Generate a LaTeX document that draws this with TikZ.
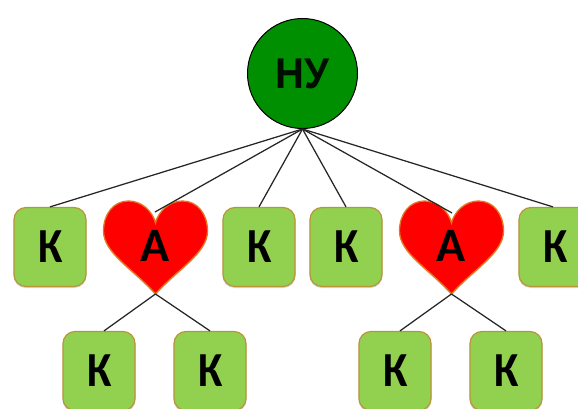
\documentclass[tikz,border=0pt]{standalone}
\usepackage{fontspec}
\usepackage{graphicx}
\setmainfont{Carlito}
\newfontfamily\rootfont{Liberation Sans}
\definecolor{leaf}{HTML}{92D050}
\definecolor{leafedge}{HTML}{B9953A}
\definecolor{heartedge}{HTML}{E8751E}
\definecolor{rootgreen}{HTML}{008F00}
\newcommand{\kaletter}{\raisebox{-1.5pt}{\hspace{2pt}\scalebox{.9}[1.02]{К}}}
\tikzset{
  x=1pt,y=-1pt,
  leafbox/.style={draw=leafedge,line width=1.2pt,fill=leaf,rounded corners=12pt,minimum width=72pt,minimum height=79pt,inner sep=0pt,font=\fontsize{48}{48}\selectfont\bfseries,text=black},
  shadowbox/.style={fill=black,opacity=.16,rounded corners=12pt,minimum width=73pt,minimum height=79pt,draw=none},
  rootnode/.style={circle,draw=black,line width=1pt,fill=rootgreen,minimum size=110pt,inner sep=0pt,font=\rootfont\fontsize{43}{43}\selectfont\bfseries,text=black!90!rootgreen},
  heartlabel/.style={inner sep=0pt,font=\fontsize{48}{48}\selectfont\bfseries,text=black},
  link/.style={draw=black!85,line width=1.25pt},
  heartshape/.style={fill=red,draw=heartedge,line width=1.3pt},
  heartshadow/.style={fill=black,opacity=.16,draw=none}
}
\newcommand{\heartpath}{
  (0,22)
  .. controls (-3,10) and (-14,0) .. (-27,0)
  .. controls (-42,0) and (-52,13) .. (-52,30)
  .. controls (-52,52) and (-22,68) .. (0,93)
  .. controls (22,68) and (52,52) .. (52,30)
  .. controls (52,13) and (42,0) .. (27,0)
  .. controls (14,0) and (3,10) .. (0,22) -- cycle
}
\begin{document}
\begin{tikzpicture}
\useasboundingbox (0,0) rectangle (578,409);
\clip (0,0) rectangle (578,409);
\fill[white] (0,0) rectangle (578,409);
% anchors of the hearts
\coordinate (h1in) at (155,212);
\coordinate (h2in) at (452,213);
\coordinate (h1tip) at (155.5,294);
\coordinate (h2tip) at (451.5,294);
% shadows
\foreach \p in {50,259,346,555} \node[shadowbox] at (\p,248.5) {};
\foreach \p in {99,210,395,506} \node[shadowbox] at (\p,372.5) {};
\fill[heartshadow,shift={(155.5,202.5)}] \heartpath;
\fill[heartshadow,shift={(451.5,202.5)}] \heartpath;
% nodes
\node[rootnode] (root) at (302.5,73.5) {\scalebox{.93}[1]{НУ}};
\node[leafbox] (k1) at (50,247) {\kaletter};
\node[leafbox] (k2) at (259,247) {\kaletter};
\node[leafbox] (k3) at (346,247) {\kaletter};
\node[leafbox] (k4) at (555,247) {\kaletter};
\node[leafbox] (k5) at (99,371) {\kaletter};
\node[leafbox] (k6) at (210,371) {\kaletter};
\node[leafbox] (k7) at (395,371) {\kaletter};
\node[leafbox] (k8) at (506,371) {\kaletter};
\path[heartshape,shift={(155.5,201)}] \heartpath;
\path[heartshape,shift={(451.5,201)}] \heartpath;
\node[heartlabel] (a1) at (155.5,246) {А};
\node[heartlabel] (a2) at (451.5,246) {А};
% connectors
\draw[link] (root.south) -- (k1.north);
\draw[link] (root.south) -- (h1in);
\draw[link] (root.south) -- (k2.north);
\draw[link] (root.south) -- (k3.north);
\draw[link] (root.south) -- (h2in);
\draw[link] (root.south) -- ([xshift=-2pt]k4.north);
\draw[link] (h1tip) -- ([xshift=5pt]k5.north);
\draw[link] (h1tip) -- (k6.north);
\draw[link] (h2tip) -- ([xshift=5pt]k7.north);
\draw[link] (h2tip) -- (k8.north);
\end{tikzpicture}
\end{document}
